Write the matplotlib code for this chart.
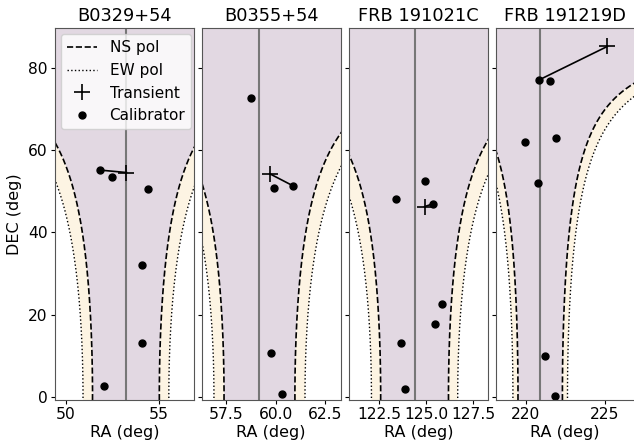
#!/usr/bin/env python

# Beam footprint (NS / EW pol) with transient and calibrator positions

import numpy as np
import matplotlib
matplotlib.use("Agg")
import matplotlib.pyplot as plt

names = ["B0329+54", "B0355+54", "FRB 191021C", "FRB 191219D"]

# beam centre RA and half widths at dec = 0 (deg)
beam_ra = [53.22, 59.18, 124.38, 220.92]
ns_half = [1.79, 1.79, 1.80, 1.40]
ew_half = [2.30, 2.30, 2.29, 1.72]

# transients
tr_ra = [53.25, 59.70, 124.91, 225.15]
tr_dec = [54.6, 54.3, 46.3, 85.3]

# calibrators
cal_ra = [
  [51.82, 52.46, 54.43, 54.09, 54.09, 52.02],
  [58.77, 59.93, 60.86, 59.78, 60.34],
  [124.95, 123.41, 125.37, 125.85, 125.44, 123.65, 123.85],
  [220.82, 221.54, 219.97, 221.94, 220.75, 221.20, 221.83],
]
cal_dec = [
  [55.2, 53.4, 50.7, 32.2, 13.0, 2.5],
  [72.8, 50.9, 51.4, 10.6, 0.7],
  [52.5, 48.1, 47.0, 22.5, 17.8, 13.1, 2.0],
  [77.1, 76.9, 62.1, 63.1, 52.1, 10.0, 0.25],
]
# index of calibrator linked to the transient
link = [0, 2, 2, 0]

xlims = [(49.39, 56.87), (56.25, 63.30), (120.87, 128.28), (218.1, 226.9)]
xticks = [[50, 55], [57.5, 60.0, 62.5], [122.5, 125.0, 127.5], [220, 225]]
xticklabels = [["50", "55"], ["57.5", "60.0", "62.5"],
               ["122.5", "125.0", "127.5"], ["220", "225"]]

purple = "#e2d8e2"
cream = "#fdf4e3"

fig = plt.figure(figsize=(6.34, 4.43), dpi=100)
W, H = 634.0, 443.0
dec = np.linspace(-3, 89.95, 2000)
sec = 1.0 / np.cos(np.radians(dec))

axes = []
for i in range(4):
  left = 54.5 + i * 147.0
  ax = fig.add_axes([left / W, 43.0 / H, 139.5 / W, 372.0 / H])
  axes.append(ax)

  c = beam_ra[i]
  ns_l, ns_r = c - ns_half[i] * sec, c + ns_half[i] * sec
  ew_l, ew_r = c - ew_half[i] * sec, c + ew_half[i] * sec
  ax.fill_betweenx(dec, ns_l, ns_r, color=purple, lw=0, zorder=0)
  ax.fill_betweenx(dec, ew_l, ns_l, color=cream, lw=0, zorder=0)
  ax.fill_betweenx(dec, ns_r, ew_r, color=cream, lw=0, zorder=0)
  ax.plot(ns_l, dec, "k--", lw=1.2)
  ax.plot(ns_r, dec, "k--", lw=1.2, label="NS pol")
  ax.plot(ew_l, dec, "k:", lw=1.0)
  ax.plot(ew_r, dec, "k:", lw=1.0, label="EW pol")
  ax.axvline(c, color="#777777", lw=1.5, zorder=1)

  j = link[i]
  ax.plot([tr_ra[i], cal_ra[i][j]], [tr_dec[i], cal_dec[i][j]], "k-", lw=1.2)
  ax.plot(tr_ra[i], tr_dec[i], "k+", ms=12, mew=1.2, label="Transient")
  ax.plot(cal_ra[i], cal_dec[i], "ko", ms=5, ls="none", label="Calibrator")

  ax.set_xlim(*xlims[i])
  ax.set_ylim(-0.8, 89.8)
  ax.set_xticks(xticks[i])
  ax.set_xticklabels(xticklabels[i])
  ax.set_yticks([0, 20, 40, 60, 80])
  if i > 0:
    ax.set_yticklabels([])
  else:
    ax.set_ylabel("DEC (deg)", fontsize=11.5, labelpad=4)
  ax.set_xlabel("RA (deg)", fontsize=11.5, labelpad=2)
  ax.set_title(names[i], fontsize=12.8, pad=5)
  ax.tick_params(labelsize=11.2, length=3, pad=2)
  for s in ax.spines.values():
    s.set_color("#555555")

axes[0].legend(loc="upper left", fontsize=11, framealpha=0.8,
               borderaxespad=0.4, handlelength=2.0)

fig.savefig("out.png", dpi=100)
